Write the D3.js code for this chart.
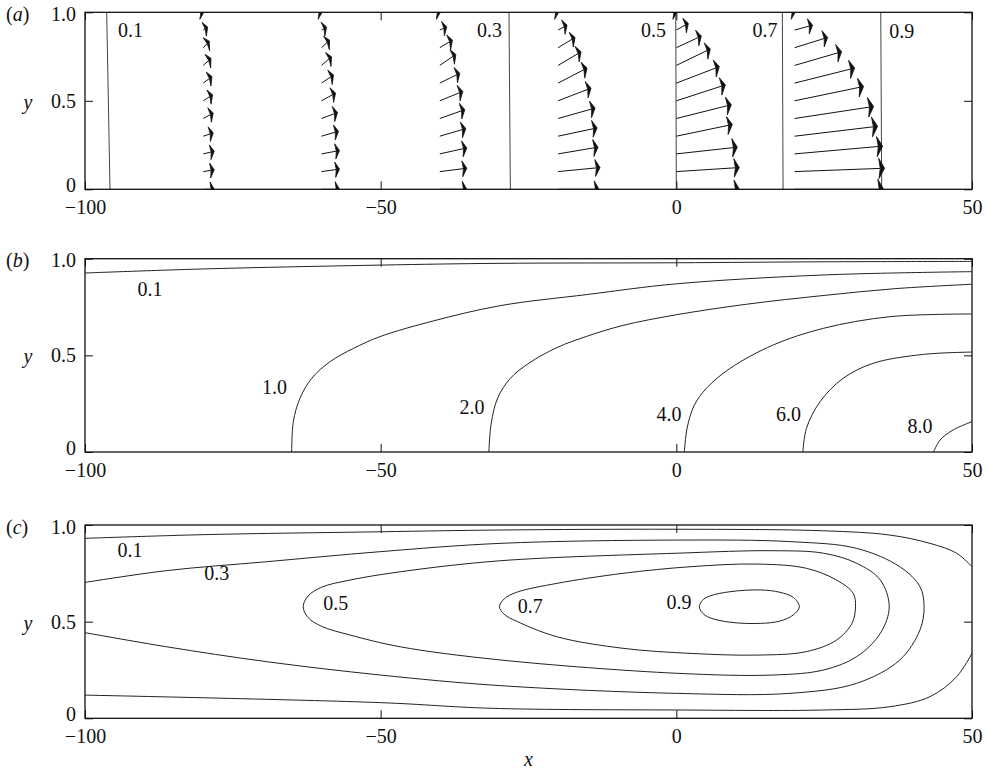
<!DOCTYPE html>
<html>
<head>
<meta charset="utf-8">
<script src="https://cdn.jsdelivr.net/npm/d3@7"></script>
<style>
  body { margin: 0; background: #fff; }
  svg { display: block; }
  text { font-family: "Liberation Serif", "Times New Roman", "DejaVu Serif", serif; font-size: 20px; fill: #111; }
</style>
</head>
<body>
<div id="chart"></div>
<script>
// Axis ticks (shared by all three panels)
const xTicks = [-100, -50, 0, 50];
const xTickLabels = ["\u2212100", "\u221250", "0", "50"];
const yTicks = [0, 0.5, 1];
const yTickLabels = ["0", "0.5", "1.0"];

// (a) velocity profiles: stations, heights, and arrow components (u in x units, v in y units)
const profileX = [-80, -60, -40, -20, 0, 20];
const profileY = [0, 0.1, 0.2, 0.3, 0.4, 0.5, 0.6, 0.7, 0.8, 0.9, 1.0];
const profileU = [
  [1.86, 1.86, 1.86, 1.69, 1.69, 1.57, 1.47, 1.30, 1.01, 0.74, 0.10],
  [3.04, 3.04, 3.04, 2.87, 2.71, 2.37, 2.03, 1.69, 1.35, 0.85, 0.10],
  [4.57, 4.57, 4.57, 4.40, 4.23, 3.89, 3.38, 2.71, 2.13, 1.18, 0.10],
  [6.93, 7.10, 6.76, 6.60, 6.26, 5.58, 4.90, 3.89, 2.87, 1.52, 0.10],
  [10.65, 10.65, 10.32, 9.47, 9.30, 8.29, 7.27, 5.75, 4.23, 2.03, 0.10],
  [15.05, 15.22, 14.88, 14.04, 13.36, 11.67, 10.15, 7.95, 5.58, 3.04, 0.10]
];
const profileV = [
  [0, 0.010, 0.015, 0.019, 0.031, 0.034, 0.037, 0.040, 0.037, 0.017, 0],
  [0, 0.014, 0.019, 0.028, 0.034, 0.044, 0.046, 0.049, 0.043, 0.017, 0],
  [0, 0.019, 0.034, 0.043, 0.050, 0.053, 0.056, 0.062, 0.043, 0.017, 0],
  [0, 0.023, 0.038, 0.047, 0.059, 0.072, 0.085, 0.077, 0.058, 0.027, 0],
  [0, 0.023, 0.038, 0.066, 0.078, 0.090, 0.093, 0.093, 0.066, 0.037, 0],
  [0, 0.019, 0.044, 0.056, 0.068, 0.081, 0.085, 0.077, 0.058, 0.027, 0]
];

// (a) contour lines
const levelsA = ["0.1", "0.3", "0.5", "0.7", "0.9"];
const linesA = [
  [[-96.33, 1], [-95.77, 0]],
  [[-28.30, 1], [-28.07, 0]],
  [[-0.10, 1], [0.00, 0]],
  [[17.93, 1], [18.05, 0]],
  [[34.57, 1], [34.73, 0]]
];
const labelsA = [[-92.3, 0.9], [-31.6, 0.9], [-3.85, 0.9], [15.0, 0.9], [38.1, 0.893]];

// (b) contour lines
const levelsB = ["0.1", "1.0", "2.0", "4.0", "6.0", "8.0"];
const linesB = [
  [[-100, 0.926], [-80, 0.947], [-50, 0.967], [-30, 0.976], [0, 0.979], [25, 0.984], [50, 0.986]],
  [[-65.05, 0], [-64.77, 0.157], [-63.64, 0.278], [-61.66, 0.381], [-58.57, 0.467], [-54.6, 0.536],
   [-50.1, 0.597], [-41.1, 0.678], [-29.8, 0.757], [-15, 0.815], [0, 0.87], [25, 0.916], [50, 0.933]],
  [[-31.7, 0], [-31.3, 0.15], [-30.2, 0.28], [-28.1, 0.38], [-24.9, 0.46], [-20.2, 0.54], [-15, 0.60],
   [-9, 0.655], [0, 0.71], [12, 0.765], [25, 0.81], [37, 0.845], [50, 0.868]],
  [[1.35, 0], [1.8, 0.12], [3.0, 0.24], [5.1, 0.33], [9.1, 0.433], [16.4, 0.554], [24.9, 0.64],
   [36.1, 0.70], [50, 0.714]],
  [[21.4, 0], [22.0, 0.122], [24.3, 0.26], [28.2, 0.381], [33.3, 0.459], [41.8, 0.505], [50, 0.517]],
  [[43.5, 0], [44.6, 0.062], [46.8, 0.114], [50, 0.157]]
];
const labelsB = [[-89.0, 0.843], [-67.95, 0.334], [-34.55, 0.235], [-1.23, 0.199], [18.97, 0.199], [41.2, 0.135]];

// (c) contour lines (open branches and closed loops)
const levelsC = ["0.1", "0.3", "0.5", "0.7", "0.9"];
const linesC = [
  [[-100, 0.931], [-80, 0.95], [-50, 0.965], [-30, 0.974], [0, 0.978], [24.9, 0.970], [36.1, 0.948],
   [42.9, 0.905], [47.4, 0.854], [50, 0.784]],
  [[50, 0.336], [47.4, 0.215], [42.9, 0.112], [36.1, 0.06], [24.9, 0.043], [0, 0.043], [-31.5, 0.052],
   [-50, 0.081], [-100, 0.12]],
  [[-100, 0.703], [-86.2, 0.764], [-69.3, 0.81], [-50.1, 0.862], [-29.8, 0.905], [0, 0.922], [19.2, 0.914],
   [30.5, 0.879], [37.8, 0.784], [41.2, 0.681], [41.9, 0.577], [41.2, 0.457], [37.8, 0.302], [30.5, 0.181],
   [19.2, 0.129], [0, 0.129], [-29.8, 0.169], [-50.1, 0.224], [-69.3, 0.293], [-86.2, 0.37], [-100, 0.443]]
];
const loopsC = [
  [[-63.1, 0.577], [-62.3, 0.632], [-60.0, 0.678], [-55.2, 0.715], [-46.7, 0.758], [-29.8, 0.815], [0, 0.854],
   [16.4, 0.867], [24.9, 0.854], [30.5, 0.802], [34.5, 0.715], [36.0, 0.577], [34.5, 0.44], [30.5, 0.319],
   [24.9, 0.25], [16.4, 0.224], [0, 0.233], [-29.8, 0.302], [-46.7, 0.37], [-55.2, 0.431], [-60.0, 0.476],
   [-62.3, 0.522]],
  [[-29.9, 0.577], [-29.1, 0.618], [-27.0, 0.652], [-20.2, 0.698], [-9.0, 0.75], [2.3, 0.784], [13.6, 0.798],
   [22.0, 0.776], [27.1, 0.715], [29.9, 0.647], [30.3, 0.577], [29.7, 0.491], [27.1, 0.405], [22.0, 0.345],
   [13.6, 0.327], [2.3, 0.336], [-9.0, 0.362], [-20.2, 0.422], [-27.0, 0.502], [-29.1, 0.538]],
  [[3.9, 0.577], [4.4, 0.61], [5.7, 0.633], [9.1, 0.655], [14.2, 0.664], [17.5, 0.652], [19.8, 0.625],
   [20.8, 0.577], [19.8, 0.535], [17.5, 0.503], [14.2, 0.491], [9.1, 0.497], [5.7, 0.52], [4.4, 0.545]]
];
const labelsC = [[-92.4, 0.871], [-77.7, 0.752], [-57.6, 0.596], [-24.7, 0.581], [0.46, 0.602]];

// Layout
const W = 987, H = 772;
const left = 85, right = 972;
const panels = [
  {name: "a", top: 12.3, bottom: 189.3},
  {name: "b", top: 258.7, bottom: 452},
  {name: "c", top: 525, bottom: 718.3}
];

const svg = d3.select("#chart").append("svg")
    .attr("width", W)
    .attr("height", H);

const x = d3.scaleLinear().domain([-100, 50]).range([left, right]);

function setupPanel(p, i) {
  const y = d3.scaleLinear().domain([0, 1]).range([p.bottom, p.top]);
  const g = svg.append("g").attr("class", "panel-" + p.name);

  g.append("clipPath").attr("id", "clip-" + p.name)
    .append("rect")
    .attr("x", left).attr("y", p.top)
    .attr("width", right - left).attr("height", p.bottom - p.top);

  const plot = g.append("g").attr("clip-path", `url(#clip-${p.name})`);

  // inward ticks on all sides
  const bottomAxis = d3.axisBottom(x).tickValues(xTicks).tickSize(-8).tickPadding(11)
      .tickFormat((d, k) => xTickLabels[k]);
  const topAxis = d3.axisTop(x).tickValues(xTicks).tickSize(-8).tickFormat("");
  const leftAxis = d3.axisLeft(y).tickValues(yTicks).tickSize(-8).tickPadding(9)
      .tickFormat((d, k) => yTickLabels[k]);
  const rightAxis = d3.axisRight(y).tickValues(yTicks).tickSize(-8).tickFormat("");

  const axes = [
    [bottomAxis, `translate(0,${p.bottom})`],
    [topAxis, `translate(0,${p.top})`],
    [leftAxis, `translate(${left},0)`],
    [rightAxis, `translate(${right},0)`]
  ];
  axes.forEach(([ax, tr], k) => {
    const a = g.append("g").attr("transform", tr).call(ax);
    a.select(".domain").remove();
    a.selectAll("line").attr("stroke", "#111").attr("stroke-width", 1);
    a.attr("font-size", null).attr("font-family", null);
    if (k === 2) {
      a.selectAll("text").attr("dy", d => d === 0 ? "0.12em" : d === 1 ? "0.4em" : "0.32em");
    }
  });

  g.append("rect")
    .attr("x", left).attr("y", p.top)
    .attr("width", right - left).attr("height", p.bottom - p.top)
    .attr("fill", "none").attr("stroke", "#111").attr("stroke-width", 1.3);

  // panel label (a) etc.
  const lab = g.append("text").attr("x", 6).attr("y", p.top + 8.5);
  lab.append("tspan").text("(");
  lab.append("tspan").attr("font-style", "italic").text(p.name);
  lab.append("tspan").text(")");

  g.append("text")
    .attr("x", 28).attr("y", y(0.5) + 8)
    .attr("text-anchor", "middle")
    .attr("font-style", "italic")
    .text("y");

  return {g, plot, y};
}

const [pa, pb, pc] = panels.map(setupPanel);

const line = d3.line().x(d => x(d[0])).curve(d3.curveCatmullRom);
const loop = d3.line().x(d => x(d[0])).curve(d3.curveCatmullRomClosed);

function contourLabels(panel, labels, levels) {
  panel.g.selectAll("text.clabel")
    .data(labels)
    .join("text")
    .attr("class", "clabel")
    .attr("x", d => x(d[0]))
    .attr("y", d => panel.y(d[1]))
    .attr("dy", "0.35em")
    .attr("text-anchor", "middle")
    .text((d, k) => levels[k]);
}

// ---- panel (a)
pa.plot.selectAll("path.cline")
  .data(linesA)
  .join("path")
  .attr("class", "cline")
  .attr("d", line.y(d => pa.y(d[1])))
  .attr("fill", "none")
  .attr("stroke", "#444")
  .attr("stroke-width", 1);

const arrows = [];
profileX.forEach((x0, i) => {
  profileY.forEach((y0, j) => {
    arrows.push({x0: x0, y0: y0, u: profileU[i][j], v: profileV[i][j]});
  });
});

function arrowGeom(d) {
  const x1 = x(d.x0), y1 = pa.y(d.y0);
  const x2 = x(d.x0 + d.u), y2 = pa.y(d.y0 + d.v);
  const dx = x2 - x1, dy = y2 - y1;
  const len = Math.hypot(dx, dy);
  const ux = len > 0 ? dx / len : 1, uy = len > 0 ? dy / len : 0;
  const hl = 4 + 0.02 * len, hh = 7 + 0.035 * len;
  let px = -uy * 0.45, py = ux;
  const pl = Math.hypot(px, py);
  px /= pl; py /= pl;
  const bx = x2 - hl * ux, by = y2 - hl * uy;
  const nx = x2 - 0.75 * hl * ux, ny = y2 - 0.75 * hl * uy;
  return {x1, y1, x2, y2, nx, ny,
    head: [[x2, y2], [bx + hh * px, by + hh * py], [nx, ny], [bx - hh * px, by - hh * py]]};
}

const arrowG = pa.plot.selectAll("g.arrow")
  .data(arrows.map(arrowGeom))
  .join("g")
  .attr("class", "arrow");

arrowG.append("line")
  .attr("x1", d => d.x1).attr("y1", d => d.y1)
  .attr("x2", d => d.nx).attr("y2", d => d.ny)
  .attr("stroke", "#111").attr("stroke-width", 1);

arrowG.append("path")
  .attr("d", d => "M" + d.head.map(p => p.join(",")).join("L") + "Z")
  .attr("fill", "#111")
  .attr("stroke", "#111")
  .attr("stroke-width", 0.8)
  .attr("stroke-linejoin", "round");

contourLabels(pa, labelsA, levelsA);

// ---- panel (b)
pb.plot.selectAll("path.cline")
  .data(linesB)
  .join("path")
  .attr("class", "cline")
  .attr("d", line.y(d => pb.y(d[1])))
  .attr("fill", "none")
  .attr("stroke", "#222")
  .attr("stroke-width", 1);

contourLabels(pb, labelsB, levelsB);

// ---- panel (c)
pc.plot.selectAll("path.cline")
  .data(linesC)
  .join("path")
  .attr("class", "cline")
  .attr("d", line.y(d => pc.y(d[1])))
  .attr("fill", "none")
  .attr("stroke", "#222")
  .attr("stroke-width", 1);

pc.plot.selectAll("path.cloop")
  .data(loopsC)
  .join("path")
  .attr("class", "cloop")
  .attr("d", loop.y(d => pc.y(d[1])))
  .attr("fill", "none")
  .attr("stroke", "#222")
  .attr("stroke-width", 1);

contourLabels(pc, labelsC, levelsC);

// x axis title under the last panel
svg.append("text")
  .attr("x", x(-25))
  .attr("y", panels[2].bottom + 48)
  .attr("text-anchor", "middle")
  .attr("font-style", "italic")
  .text("x");
</script>
</body>
</html>
